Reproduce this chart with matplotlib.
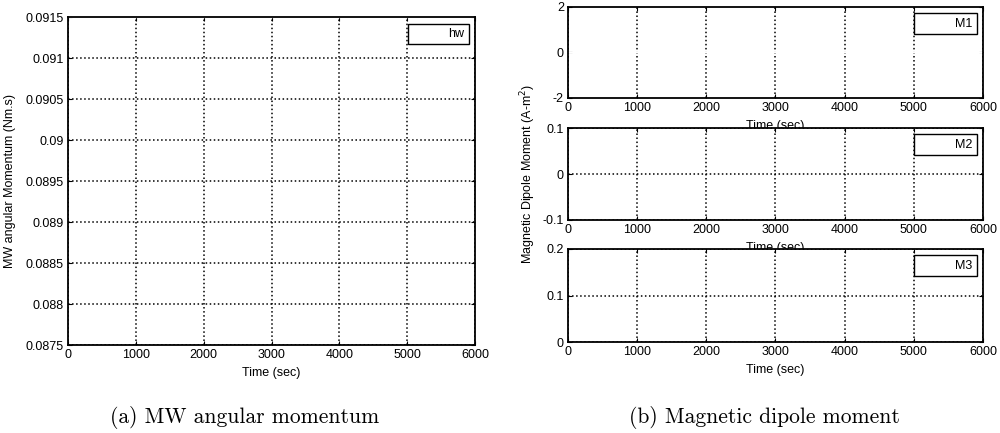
import matplotlib
matplotlib.use('Agg')
import matplotlib.pyplot as plt
from matplotlib.ticker import FuncFormatter

# data (the traces are lost in the scanned original, drawn white)
time = [0, 1000, 2000, 3000, 4000, 5000, 6000]
hw = [0.0915, 0.0915, 0.0915, 0.0915, 0.0915, 0.0915, 0.0915]
m1 = [0, 0, 0, 0, 0, 0, 0]
m2 = [-0.1, -0.1, -0.1, -0.1, -0.1, -0.1, -0.1]
m3 = [0, 0, 0, 0, 0, 0, 0]

x_ticks = [0, 1000, 2000, 3000, 4000, 5000, 6000]
hw_ticks = [0.0875, 0.088, 0.0885, 0.089, 0.0895, 0.09, 0.0905, 0.091, 0.0915]
m1_ticks = [-2, 0, 2]
m2_ticks = [-0.1, 0, 0.1]
m3_ticks = [0, 0.1, 0.2]

plt.rcParams['font.family'] = ['Liberation Sans', 'DejaVu Sans']
FS = 9

fig = plt.figure(figsize=(10, 4.33), dpi=100)


def style(ax, yticks, ylim, grid_y=True):
    ax.set_xlim(0, 6000)
    ax.set_ylim(*ylim)
    ax.set_xticks(x_ticks)
    ax.set_yticks(yticks)
    ax.yaxis.set_major_formatter(FuncFormatter(lambda v, p: '%g' % round(v, 6)))
    ax.tick_params(direction='in', top=True, right=True, length=3, width=0.8,
                   labelsize=FS, pad=3)
    ax.xaxis.grid(True, linestyle=':', color='black', linewidth=1.1)
    if grid_y:
        ax.yaxis.grid(True, linestyle=':', color='black', linewidth=1.1)
    else:
        ax.yaxis.grid(False)
    ax.set_axisbelow(True)
    for s in ax.spines.values():
        s.set_linewidth(1.3)
    ax.set_xlabel('Time (sec)', fontsize=FS, labelpad=4)
    leg = ax.legend(loc='upper right', fancybox=False, edgecolor='black',
                    handlelength=2.3, handletextpad=0.6, borderpad=0.35,
                    framealpha=1, fontsize=FS)
    leg.get_frame().set_linewidth(1.0)
    return ax


# (a) MW angular momentum
ax = fig.add_axes([0.068, 0.203, 0.407, 0.757])
ax.plot(time, hw, color='white', linewidth=1, label='hw')
style(ax, hw_ticks, (0.0875, 0.0915))
ax.set_ylabel('MW angular Momentum (Nm.s)', fontsize=FS, labelpad=7)

# (b) magnetic dipole moment
ax1 = fig.add_axes([0.568, 0.774, 0.415, 0.210])
ax1.plot(time, m1, color='white', linewidth=1, label='M1')
style(ax1, m1_ticks, (-2, 2), grid_y=False)

ax2 = fig.add_axes([0.568, 0.492, 0.415, 0.212])
ax2.plot(time, m2, color='white', linewidth=1, label='M2')
style(ax2, m2_ticks, (-0.1, 0.1))
ax2.set_ylabel('Magnetic Dipole Moment (A-m$^2$)', fontsize=FS, labelpad=3)

ax3 = fig.add_axes([0.568, 0.210, 0.415, 0.215])
ax3.plot(time, m3, color='white', linewidth=1, label='M3')
style(ax3, m3_ticks, (0, 0.2))

fig.text(0.245, 0.035, '(a) MW angular momentum', ha='center', va='center',
         family='cmr10', fontsize=15.5)
fig.text(0.764, 0.035, '(b) Magnetic dipole moment', ha='center', va='center',
         family='cmr10', fontsize=15.5)

fig.savefig('out.png', dpi=100)
